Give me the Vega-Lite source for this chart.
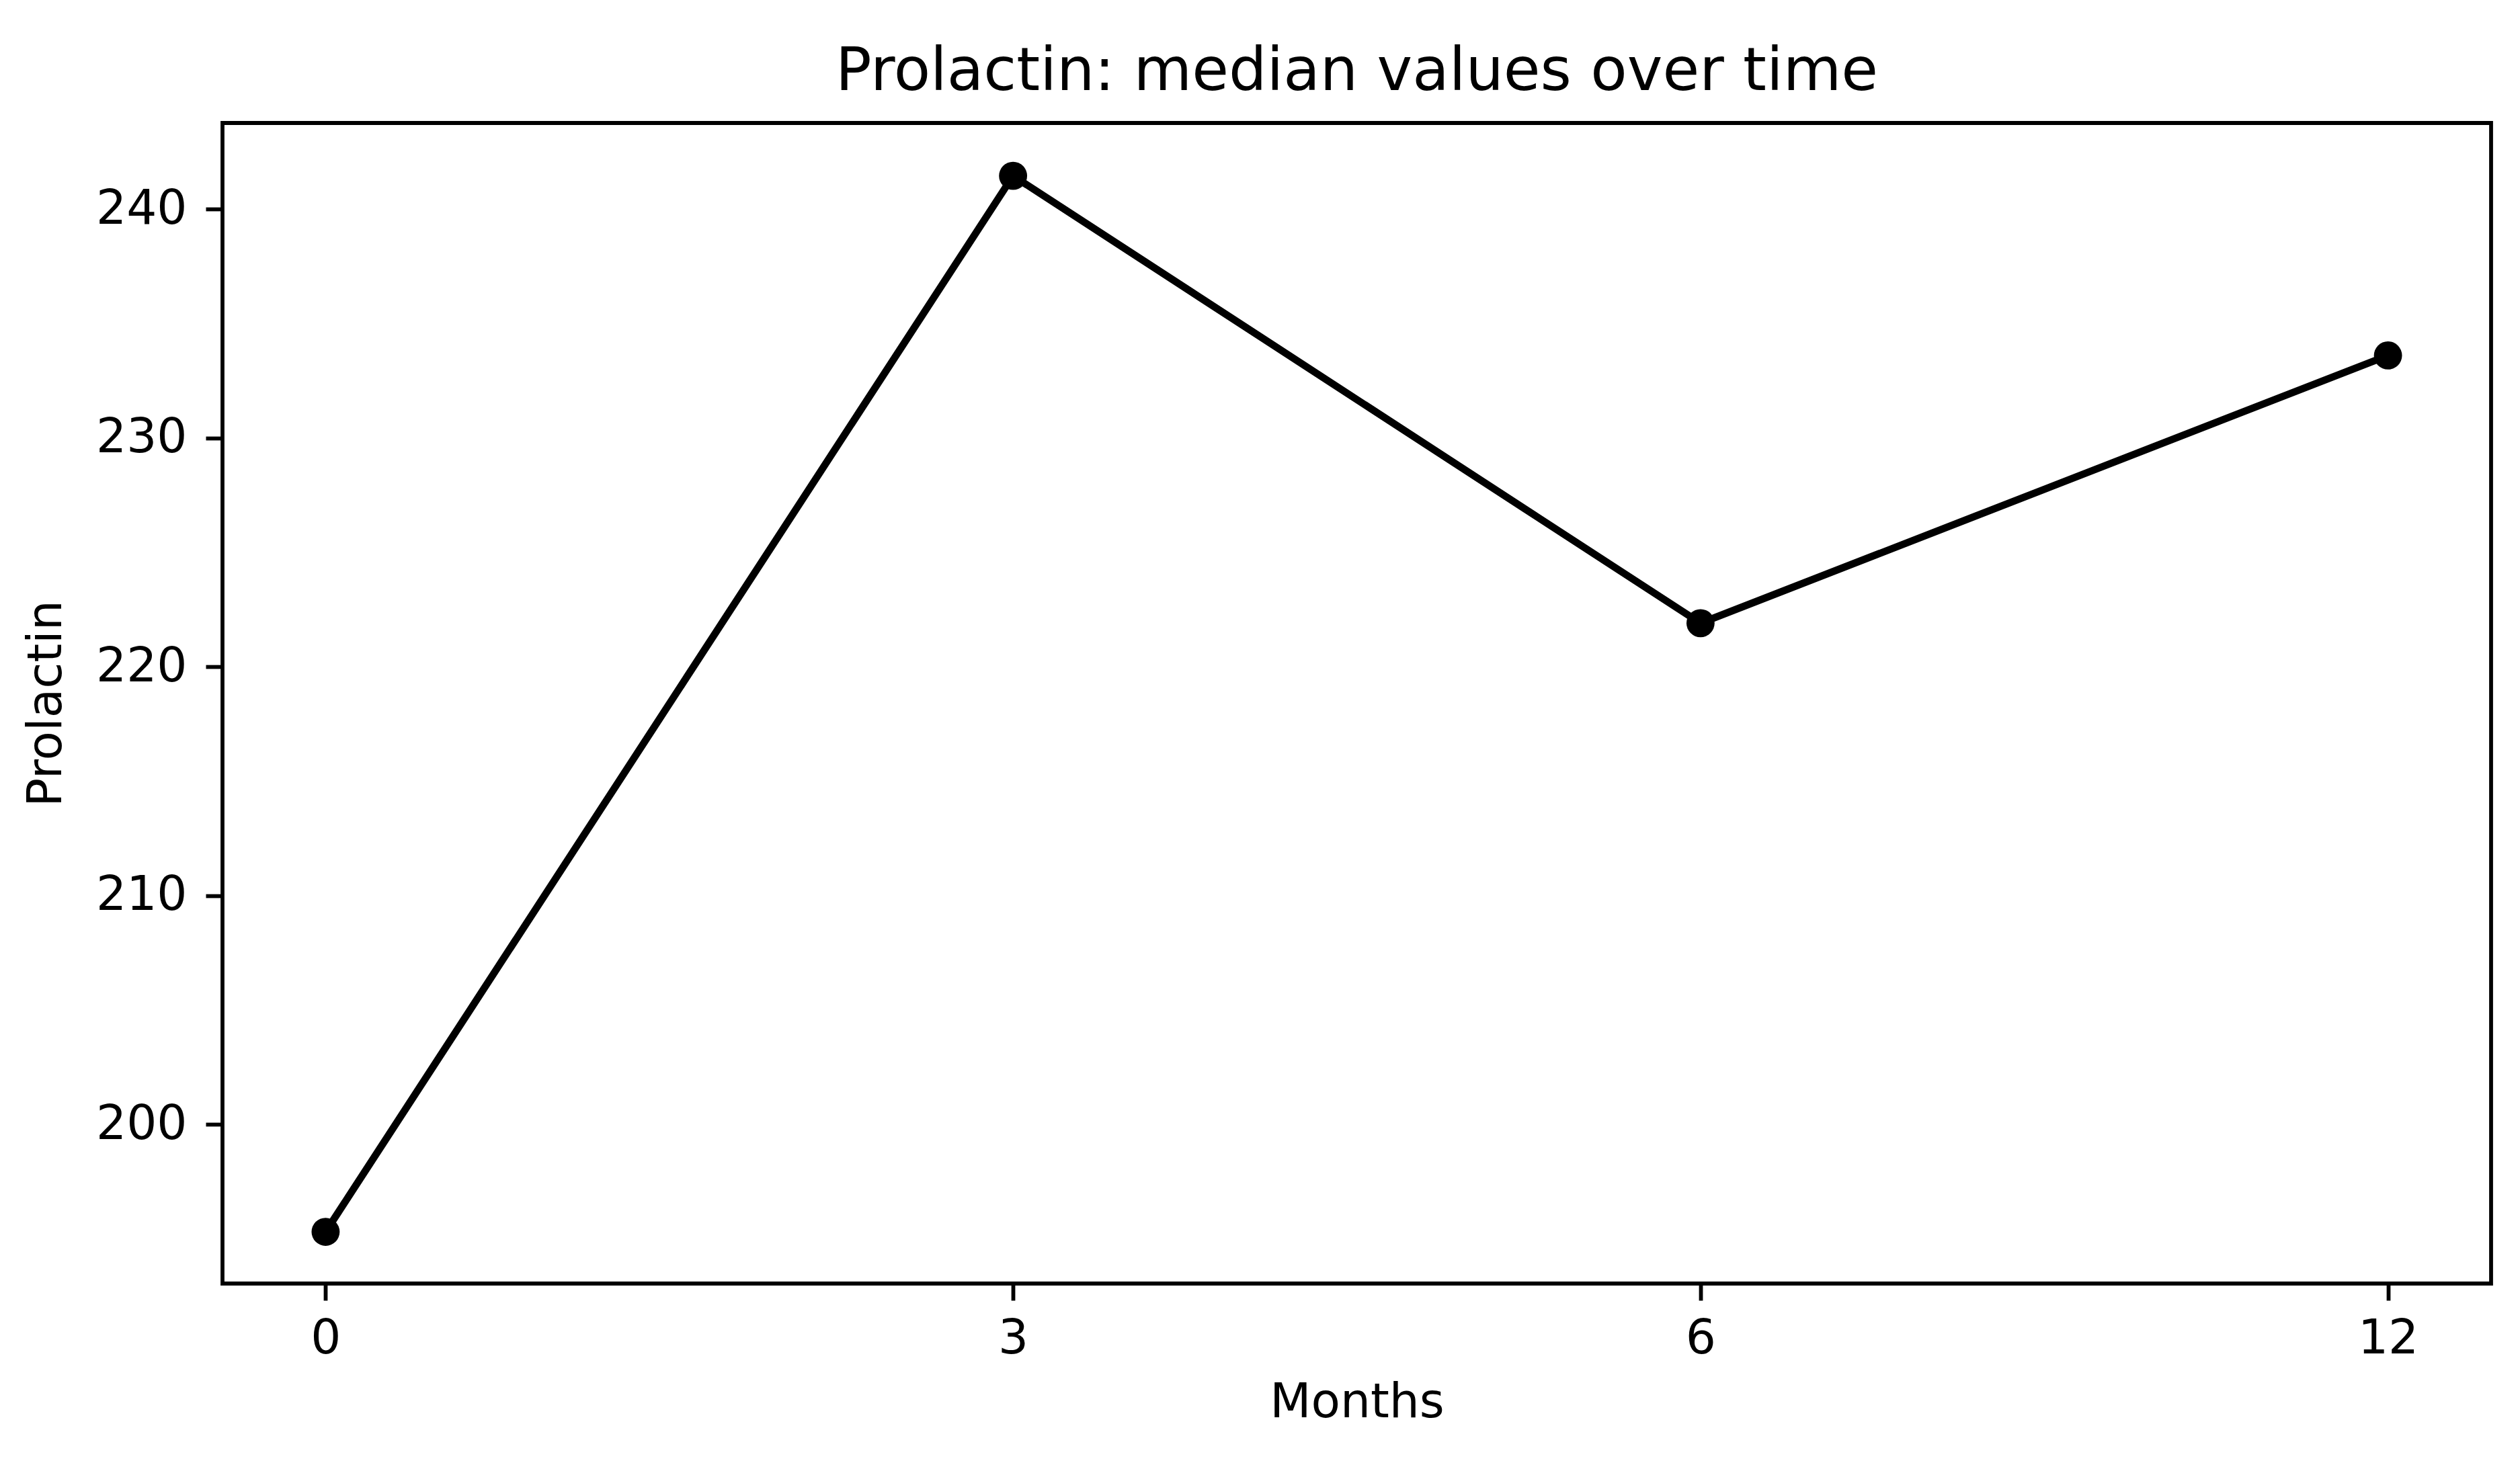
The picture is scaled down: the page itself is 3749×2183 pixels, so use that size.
{
  "$schema": "https://vega.github.io/schema/vega-lite/v6.json",
  "autosize": {"type": "none"},
  "padding": {"left": 331, "top": 183, "right": 43, "bottom": 273},
  "width": 3375,
  "height": 1727,
  "background": "white",
  "title": {
    "text": "Prolactin: median values over time",
    "font": "DejaVu Sans",
    "fontSize": 89,
    "fontWeight": "normal",
    "color": "black",
    "anchor": "middle",
    "baseline": "alphabetic",
    "offset": -40
  },
  "data": {
    "values": [
      {"month": 0, "prolactin": 195.3},
      {"month": 3, "prolactin": 241.45},
      {"month": 6, "prolactin": 221.9},
      {"month": 12, "prolactin": 233.6}
    ]
  },
  "encoding": {
    "x": {
      "field": "month",
      "type": "ordinal",
      "scale": {"type": "point", "padding": 0.15},
      "axis": {
        "title": "Months",
        "labelAngle": 0,
        "labelPadding": 22,
        "titlePadding": 25
      }
    },
    "y": {
      "field": "prolactin",
      "type": "quantitative",
      "scale": {"domain": [193.04, 243.76], "nice": false, "zero": false},
      "axis": {
        "title": "Prolactin",
        "values": [200, 210, 220, 230, 240],
        "labelPadding": 28,
        "titlePadding": 37
      }
    }
  },
  "layer": [
    {
      "mark": {"type": "line", "color": "black", "strokeWidth": 10.8}
    },
    {
      "mark": {"type": "point", "shape": "circle", "filled": true, "color": "black", "opacity": 1, "size": 1750}
    }
  ],
  "config": {
    "view": {"stroke": "black", "strokeWidth": 5.8, "fill": "white"},
    "axis": {
      "grid": false,
      "domain": false,
      "ticks": true,
      "tickSize": 25,
      "tickWidth": 5.8,
      "tickColor": "black",
      "labelFont": "DejaVu Sans",
      "labelFontSize": 71,
      "labelColor": "black",
      "titleFont": "DejaVu Sans",
      "titleFontSize": 71,
      "titleFontWeight": "normal",
      "titleColor": "black"
    }
  }
}
